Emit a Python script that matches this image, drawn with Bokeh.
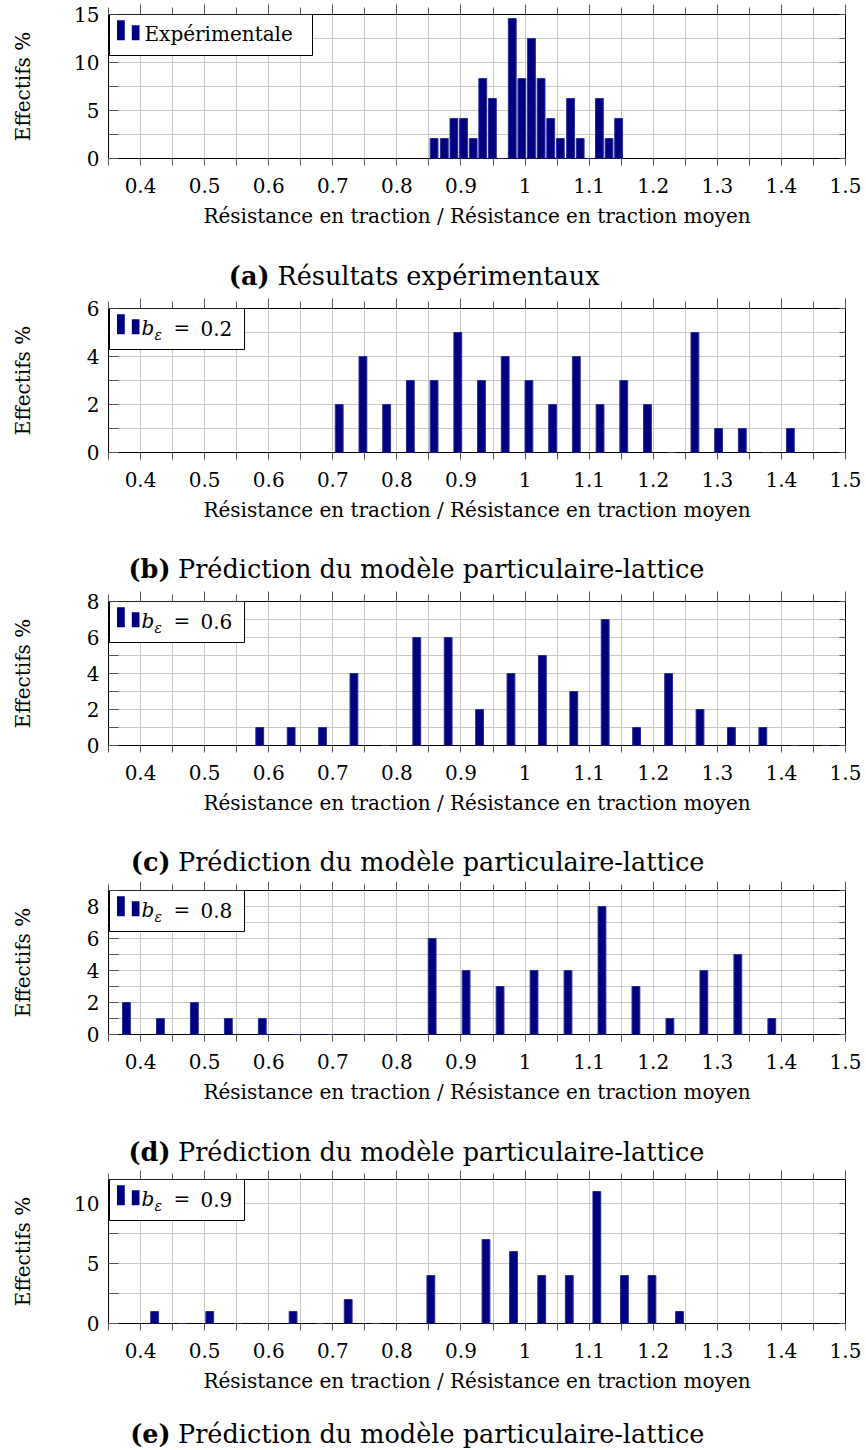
from bokeh.plotting import figure
from bokeh.models import (Range1d, FixedTicker, LinearAxis, PrintfTickFormatter,
                          Label, BoxAnnotation, Grid, ColumnDataSource, CustomLabelingPolicy)
from bokeh.layouts import column
from bokeh.embed import file_html
from bokeh.resources import INLINE

FONT = "DejaVu Serif"
NAVY = "#00007f"

# ---------------- data ----------------
x_major = [0.4, 0.5, 0.6, 0.7, 0.8, 0.9, 1.0, 1.1, 1.2, 1.3, 1.4, 1.5]
x_minor = [0.35, 0.45, 0.55, 0.65, 0.75, 0.85, 0.95, 1.05, 1.15, 1.25, 1.35, 1.45]
x_axis_title = "Résistance en traction / Résistance en traction moyen"
y_axis_title = "Effectifs %"

a_centers = [0.858, 0.874, 0.889, 0.904, 0.919, 0.934, 0.949, 0.964, 0.980, 0.995,
             1.010, 1.025, 1.040, 1.055, 1.071, 1.086, 1.101, 1.116, 1.131, 1.146]
a_values = [2.08, 2.08, 4.17, 4.17, 2.08, 8.33, 6.25, 0, 14.58, 8.33,
            12.5, 8.33, 4.17, 2.08, 6.25, 2.08, 0, 6.25, 2.08, 4.17]

b_centers = [0.710, 0.747, 0.784, 0.821, 0.858, 0.895, 0.932, 0.969, 1.006, 1.043,
             1.080, 1.117, 1.154, 1.191, 1.228, 1.265, 1.302, 1.339, 1.377, 1.414]
b_values = [2, 4, 2, 3, 3, 5, 3, 4, 3, 2, 4, 2, 3, 2, 0, 5, 1, 1, 0, 1]

c_centers = [0.586, 0.635, 0.684, 0.733, 0.782, 0.831, 0.880, 0.929, 0.978, 1.027,
             1.076, 1.125, 1.174, 1.224, 1.273, 1.322, 1.371, 1.420, 1.469]
c_values = [1, 1, 1, 4, 0, 6, 6, 2, 4, 5, 3, 7, 1, 4, 2, 1, 1, 0, 0]

d_centers = [0.378, 0.431, 0.484, 0.537, 0.590, 0.643, 0.696, 0.749, 0.802, 0.855,
             0.908, 0.961, 1.014, 1.067, 1.120, 1.173, 1.226, 1.279, 1.332, 1.385]
d_values = [2, 1, 2, 1, 1, 0, 0, 0, 0, 6, 4, 3, 4, 4, 8, 3, 1, 4, 5, 1]

e_centers = [0.422, 0.465, 0.508, 0.552, 0.595, 0.638, 0.681, 0.724, 0.767, 0.810,
             0.853, 0.896, 0.939, 0.982, 1.026, 1.069, 1.112, 1.155, 1.198, 1.241]
e_values = [1, 0, 1, 0, 0, 1, 0, 2, 0, 0, 4, 0, 7, 6, 4, 4, 11, 4, 4, 1]

captions = ["Résultats expérimentaux"] + ["Prédiction du modèle particulaire-lattice"] * 4
tags = ["(a)", "(b)", "(c)", "(d)", "(e)"]
legend_names = ["Expérimentale", "0.2", "0.6", "0.8", "0.9"]

# layout (pixels): top border, caption strip height, caption centre from strip bottom
panels = [
    dict(c=a_centers, v=a_values, ymax=15, ymaj=[0, 5, 10, 15], ymin=[2.5, 7.5, 12.5],
         top=14, cap_h=53, cap_y=16, top_out=10),
    dict(c=b_centers, v=b_values, ymax=6, ymaj=[0, 2, 4, 6], ymin=[1, 3, 5],
         top=17, cap_h=52, cap_y=15.5, top_out=10),
    dict(c=c_centers, v=c_values, ymax=8, ymaj=[0, 2, 4, 6, 8], ymin=[1, 3, 5, 7],
         top=17, cap_h=52, cap_y=15.5, top_out=10),
    dict(c=d_centers, v=d_values, ymax=9, ymaj=[0, 2, 4, 6, 8], ymin=[1, 3, 5, 7, 9],
         top=12, cap_h=52, cap_y=15, top_out=9),
    dict(c=e_centers, v=e_values, ymax=12, ymaj=[0, 5, 10], ymin=[2.5, 7.5],
         top=12, cap_h=46, cap_y=16, top_out=9),
]

FH = 144
FW = 737
BL, BR, BB = 108, 16, 80
GRID = "#c8c8c8"
TICK = "#555555"
CAP_SIZE = "25.5px"


def hide_policy():
    return CustomLabelingPolicy(code="""
try { for (const i of Array.from(indices.ones())) { indices.unset(i) } } catch (e) {}
return indices
""")


def hidden_axis(ticker, **kw):
    return LinearAxis(ticker=ticker, axis_line_color=None, major_label_text_font_size="1px",
                      major_label_standoff=0, major_label_policy=hide_policy(),
                      major_tick_line_color=TICK, minor_tick_line_color=TICK, **kw)


def screen_box(l, r, t, b, **kw):
    return BoxAnnotation(left=l, right=r, top=t, bottom=b,
                         left_units="screen", right_units="screen",
                         top_units="screen", bottom_units="screen", **kw)


def screen_label(x, y, text, size="20px", style="normal", align="left", baseline="middle"):
    return Label(x=x, y=y, x_units="screen", y_units="screen", text=text,
                 text_font=FONT, text_font_size=size, text_font_style=style,
                 text_align=align, text_baseline=baseline, text_color="black")


items = []
for i, pn in enumerate(panels):
    two_digit = max(pn["ymaj"]) >= 10
    p = figure(frame_width=FW, frame_height=FH, x_range=Range1d(0.35, 1.5),
               y_range=Range1d(0, pn["ymax"]), x_axis_type=None, y_axis_type=None,
               output_backend="svg", toolbar_location=None,
               min_border_left=BL, min_border_right=BR,
               min_border_top=pn["top"], min_border_bottom=BB,
               outline_line_color="black", outline_line_width=1, outline_line_alpha=1,
               background_fill_color="white", border_fill_color="white")

    xt = FixedTicker(ticks=x_major, minor_ticks=x_minor)
    yt = FixedTicker(ticks=pn["ymaj"], minor_ticks=pn["ymin"])

    p.add_layout(Grid(dimension=0, ticker=xt, grid_line_color=GRID, minor_grid_line_color=GRID,
                      grid_line_width=1, minor_grid_line_width=1))
    p.add_layout(Grid(dimension=1, ticker=yt, grid_line_color=GRID, minor_grid_line_color=GRID,
                      grid_line_width=1, minor_grid_line_width=1))

    xb = LinearAxis(ticker=xt, formatter=PrintfTickFormatter(format="%g"),
                    axis_line_color=None, major_tick_in=0, major_tick_out=7,
                    minor_tick_in=0, minor_tick_out=7,
                    major_tick_line_color=TICK, minor_tick_line_color=TICK,
                    major_label_text_font=FONT, major_label_text_font_size="20px",
                    major_label_text_color="black", major_label_standoff=12,
                    axis_label=x_axis_title, axis_label_text_font=FONT,
                    axis_label_text_font_size="20px", axis_label_text_font_style="normal",
                    axis_label_text_color="black", axis_label_standoff=8)
    p.add_layout(xb, "below")

    yl = LinearAxis(ticker=yt, formatter=PrintfTickFormatter(format="%g"),
                    axis_line_color=None, major_tick_in=10, major_tick_out=0,
                    minor_tick_in=10, minor_tick_out=0,
                    major_tick_line_color=TICK, minor_tick_line_color=TICK,
                    major_label_text_font=FONT, major_label_text_font_size="20px",
                    major_label_text_color="black", major_label_standoff=9,
                    axis_label=y_axis_title, axis_label_text_font=FONT,
                    axis_label_text_font_size="20px", axis_label_text_font_style="normal",
                    axis_label_text_color="black",
                    axis_label_standoff=(36 if two_digit else 49))
    p.add_layout(yl, "left")

    p.add_layout(hidden_axis(xt, major_tick_in=0, major_tick_out=pn["top_out"],
                             minor_tick_in=0, minor_tick_out=pn["top_out"] - 3), "above")
    p.add_layout(hidden_axis(yt, major_tick_in=6, major_tick_out=0,
                             minor_tick_in=6, minor_tick_out=0), "right")

    src = ColumnDataSource(dict(x=pn["c"], top=pn["v"]))
    p.vbar(x="x", top="top", bottom=0, width=0.0122, source=src,
           fill_color=NAVY, line_color="#2a2aa0", line_width=1)

    # legend (pgfplots-like ybar legend)
    box_w = 204 if i == 0 else 136
    p.add_layout(screen_box(1, box_w, FH, FH - 41, fill_color="white", fill_alpha=1,
                            line_color="black", line_alpha=1, line_width=1))
    p.add_layout(screen_box(8.5, 16.3, FH - 5.7, FH - 25.7, fill_color=NAVY, fill_alpha=1,
                            line_color=None))
    p.add_layout(screen_box(23.3, 31, FH - 10.7, FH - 25.7, fill_color=NAVY, fill_alpha=1,
                            line_color=None))
    if i == 0:
        p.add_layout(screen_label(36, FH - 19, legend_names[0]))
    else:
        p.add_layout(screen_label(33, FH - 19.5, "b", style="italic"))
        p.add_layout(screen_label(46, FH - 26, "ε", size="14px", style="italic"))
        p.add_layout(screen_label(65, FH - 19.5, "="))
        p.add_layout(screen_label(92, FH - 19.5, legend_names[i]))
    items.append(p)

    # caption strip, same borders as the plots so that the frames line up
    cf = figure(frame_width=FW, frame_height=pn["cap_h"], x_range=Range1d(0, FW),
                y_range=Range1d(0, pn["cap_h"]), x_axis_type=None, y_axis_type=None,
                output_backend="svg", toolbar_location=None,
                min_border_left=BL, min_border_right=BR, min_border_top=0, min_border_bottom=0,
                outline_line_color=None, background_fill_color="white",
                border_fill_color="white")
    if i == 0:
        tag_right, text_left = 161, 169
    else:
        tag_right, text_left = 62, 69.5
    cf.add_layout(screen_label(tag_right, pn["cap_y"], tags[i], size=CAP_SIZE, style="bold",
                               align="right"))
    cf.add_layout(screen_label(text_left, pn["cap_y"], captions[i], size=CAP_SIZE))
    items.append(cf)

layout = column(*items, spacing=0)
open("out.html", "w").write(file_html(layout, INLINE))
